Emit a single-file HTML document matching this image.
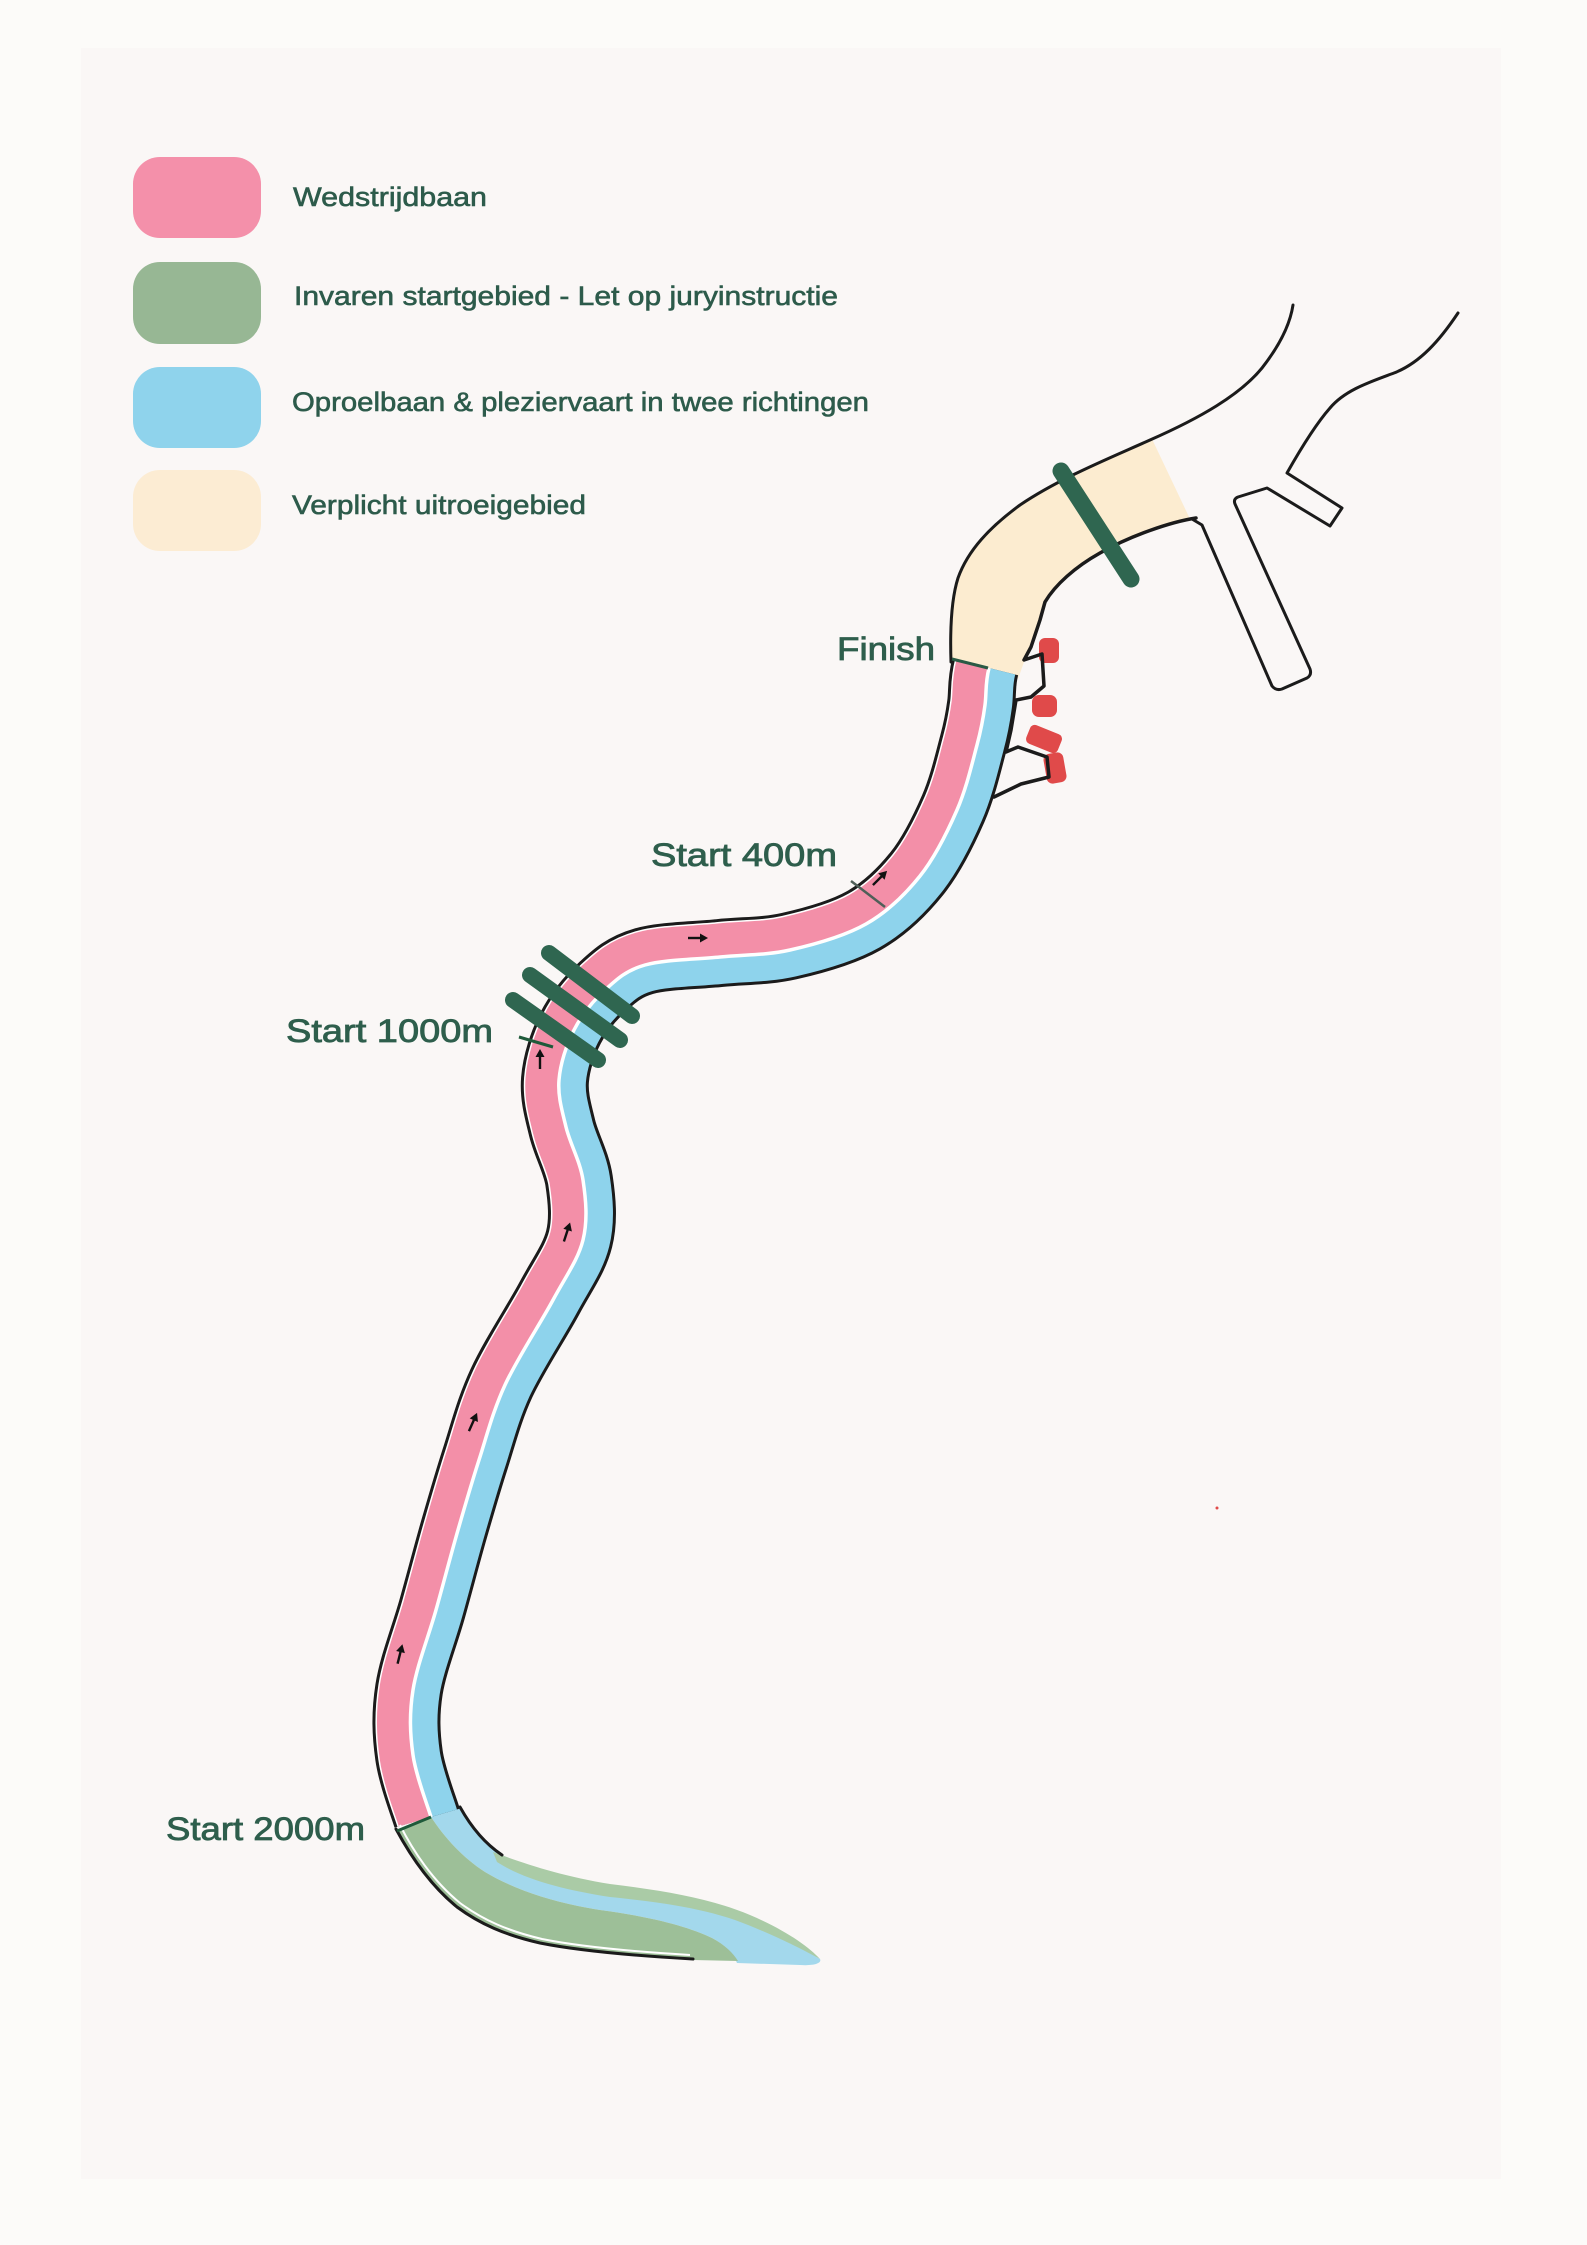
<!DOCTYPE html>
<html><head><meta charset="utf-8"><style>
html,body{margin:0;padding:0;background:#fcfbf9}
svg{display:block}
.lg{font-family:"Liberation Sans",sans-serif;font-size:27px;fill:#2d5b4b;stroke:#2d5b4b;stroke-width:0.6}
.lb{font-family:"Liberation Sans",sans-serif;font-size:32px;fill:#2e5e4c;stroke:#2e5e4c;stroke-width:0.8}
</style></head><body>
<svg width="1587" height="2245" viewBox="0 0 1587 2245" xmlns="http://www.w3.org/2000/svg">
<defs>
<path id="C" d="M431,1817 C428,1806.7 416,1776.2 413,1755 C410,1733.8 409.2,1714.2 413,1690 C416.8,1665.8 428.5,1636.7 436,1610 C443.5,1583.3 450.8,1555 458,1530 C465.2,1505 471.2,1484.2 479,1460 C486.8,1435.8 492.7,1411.7 505,1385 C517.3,1358.3 540,1324.2 553,1300 C566,1275.8 578,1260 583,1240 C588,1220 585.8,1198.8 583,1180 C580.2,1161.2 570,1143.7 566,1127 C562,1110.3 557.7,1096.2 559,1080 C560.3,1063.8 566.3,1045 574,1030 C581.7,1015 593.2,1000.8 605,990 C616.8,979.2 625.8,970.5 645,965 C664.2,959.5 695.8,959.5 720,957 C744.2,954.5 765.7,955.5 790,950 C814.3,944.5 844.3,936.3 866,924 C887.7,911.7 904.8,895 920,876 C935.2,857 947.5,831.8 957,810 C966.5,788.2 972.3,762.5 977,745 C981.7,727.5 983.3,717.8 985,705 C986.7,692.2 985,684 989,668"/>
<clipPath id="cl"><path d="M431,1817 C428,1806.7 416,1776.2 413,1755 C410,1733.8 409.2,1714.2 413,1690 C416.8,1665.8 428.5,1636.7 436,1610 C443.5,1583.3 450.8,1555 458,1530 C465.2,1505 471.2,1484.2 479,1460 C486.8,1435.8 492.7,1411.7 505,1385 C517.3,1358.3 540,1324.2 553,1300 C566,1275.8 578,1260 583,1240 C588,1220 585.8,1198.8 583,1180 C580.2,1161.2 570,1143.7 566,1127 C562,1110.3 557.7,1096.2 559,1080 C560.3,1063.8 566.3,1045 574,1030 C581.7,1015 593.2,1000.8 605,990 C616.8,979.2 625.8,970.5 645,965 C664.2,959.5 695.8,959.5 720,957 C744.2,954.5 765.7,955.5 790,950 C814.3,944.5 844.3,936.3 866,924 C887.7,911.7 904.8,895 920,876 C935.2,857 947.5,831.8 957,810 C966.5,788.2 972.3,762.5 977,745 C981.7,727.5 983.3,717.8 985,705 C986.7,692.2 985,684 989,668 L989,0 L0,0 L0,2245 L431,2245 Z"/></clipPath>
<clipPath id="cr"><path d="M431,1817 C428,1806.7 416,1776.2 413,1755 C410,1733.8 409.2,1714.2 413,1690 C416.8,1665.8 428.5,1636.7 436,1610 C443.5,1583.3 450.8,1555 458,1530 C465.2,1505 471.2,1484.2 479,1460 C486.8,1435.8 492.7,1411.7 505,1385 C517.3,1358.3 540,1324.2 553,1300 C566,1275.8 578,1260 583,1240 C588,1220 585.8,1198.8 583,1180 C580.2,1161.2 570,1143.7 566,1127 C562,1110.3 557.7,1096.2 559,1080 C560.3,1063.8 566.3,1045 574,1030 C581.7,1015 593.2,1000.8 605,990 C616.8,979.2 625.8,970.5 645,965 C664.2,959.5 695.8,959.5 720,957 C744.2,954.5 765.7,955.5 790,950 C814.3,944.5 844.3,936.3 866,924 C887.7,911.7 904.8,895 920,876 C935.2,857 947.5,831.8 957,810 C966.5,788.2 972.3,762.5 977,745 C981.7,727.5 983.3,717.8 985,705 C986.7,692.2 985,684 989,668 L989,0 L1587,0 L1587,2245 L431,2245 Z"/></clipPath>
<g id="ar"><path d="M0,10 L0,-3" stroke="#111" stroke-width="2.4" fill="none"/><path d="M0,-10 L-4.5,-2 L4.5,-2 Z" fill="#111"/></g>
</defs>

<rect width="1587" height="2245" fill="#fcfbf9"/>
<rect x="81" y="48" width="1420" height="2131" fill="#faf7f6"/>

<rect x="133" y="157" width="128" height="81" rx="27" fill="#f490aa"/>
<rect x="133" y="262" width="128" height="82" rx="27" fill="#97b794"/>
<rect x="133" y="367" width="128" height="81" rx="27" fill="#8fd3ec"/>
<rect x="133" y="470" width="128" height="81" rx="27" fill="#fcecd3"/>
<text class="lg" x="293" y="206" textLength="194" lengthAdjust="spacingAndGlyphs">Wedstrijdbaan</text>
<text class="lg" x="294" y="305" textLength="544" lengthAdjust="spacingAndGlyphs">Invaren startgebied - Let op juryinstructie</text>
<text class="lg" x="292" y="411" textLength="577" lengthAdjust="spacingAndGlyphs">Oproelbaan &amp; pleziervaart in twee richtingen</text>
<text class="lg" x="292" y="514" textLength="294" lengthAdjust="spacingAndGlyphs">Verplicht uitroeigebied</text>

<path d="M952,662 C950,632 951,600 958,578 C968,550 990,527 1020,505 C1060,478 1110,458 1152,439 L1190,519 C1170,522 1130,536 1100,553 C1075,567 1055,585 1045,602 L1040,620 L1030,648 L1024,662 L1018,679 L990,672 Z" fill="#fcecd0"/>

<path d="M431,1817 L461,1806 C470,1825 484,1843 502,1855 C530,1870 570,1882 615,1888 C665,1894 705,1903 740,1918 C775,1933 805,1950 820,1959 C822,1963 815,1966 800,1965 L737,1963 C733,1953 725,1945 712,1938 C685,1925 645,1916 600,1910 C555,1903 515,1890 485,1872 C462,1857 445,1838 431,1817 Z" fill="#a3d8ec"/>
<path d="M493,1852 C520,1862 560,1876 610,1884 C660,1890 710,1898 750,1915 C785,1930 808,1946 820,1959 C800,1948 770,1933 735,1920 C700,1908 660,1902 610,1897 C565,1890 525,1880 497,1862 Z" fill="#aacba6"/>
<path d="M397,1830 L431,1817 C445,1838 462,1857 485,1872 C515,1890 555,1903 600,1910 C645,1916 685,1925 712,1938 C725,1945 733,1953 738,1961 L693,1960 C640,1956 580,1951 540,1943 C505,1935 480,1924 457,1907 C430,1885 410,1855 397,1830 Z" fill="#9dbf98"/>

<g clip-path="url(#cl)" fill="none">
<use href="#C" stroke="#1b1b1b" stroke-width="76"/>
<use href="#C" stroke="#ffffff" stroke-width="70"/>
<use href="#C" stroke="#f38fa8" stroke-width="67"/>
</g>
<g clip-path="url(#cr)" fill="none">
<use href="#C" stroke="#1b1b1b" stroke-width="60"/>
<use href="#C" stroke="#8ed3ec" stroke-width="54"/>
</g>
<use href="#C" stroke="#ffffff" stroke-width="3.5" fill="none"/>

<g fill="none" stroke="#1b1b1b" stroke-width="3" stroke-linejoin="round" stroke-linecap="round">
<path d="M951,662 C950,632 951,600 958,578 C968,550 990,527 1020,505 C1060,478 1110,458 1150,440 C1200,418 1240,395 1262,368 C1280,345 1290,325 1293,305"/>
<path d="M1192,519 L1202,525 L1272,686 Q1276,691 1282,689 L1307,678 Q1312,675 1310,669 L1235,504 Q1233,499 1238,497 L1267,488 L1330,526 L1342,508 L1287,473 C1300,450 1315,425 1330,408 C1345,390 1370,382 1394,373 C1420,363 1440,340 1458,313"/>
<path d="M396,1829 C410,1855 430,1885 457,1907 C480,1924 505,1935 540,1943 C580,1951 640,1956 693,1959"/>
<path d="M460,1807 C470,1825 484,1843 502,1855"/>
</g>
<path d="M400,1825 C413,1851 433,1881 460,1903 C483,1920 508,1931 542,1939 C582,1947 640,1952 690,1955" fill="none" stroke="#fff" stroke-width="2"/>

<g fill="#e04a4a">
<rect x="1039" y="638" width="20" height="25" rx="6"/>
<rect x="1032" y="695" width="25" height="22" rx="7"/>
<rect x="1027" y="729" width="34" height="20" rx="5" transform="rotate(22 1044 739)"/>
<rect x="1045" y="753" width="20" height="30" rx="6" transform="rotate(-10 1055 768)"/>
</g>
<path d="M1196,518 C1170,522 1130,536 1100,553 C1075,567 1055,585 1045,602 L1040,620 L1031,647 L1024,660 L1042,654 L1044,686 L1031,697 L1016,700 L1011,730 L1006,752 L1018,747 L1047,757 L1049,777 L1021,784 L994,797" fill="none" stroke="#1b1b1b" stroke-width="3.5" stroke-linejoin="round" stroke-linecap="round"/>

<line x1="952" y1="659" x2="988" y2="668" stroke="#2a5a45" stroke-width="3"/>
<line x1="851" y1="881" x2="885" y2="907" stroke="#4f5f58" stroke-width="2.5"/>
<line x1="519" y1="1037" x2="553" y2="1047" stroke="#1f5a3a" stroke-width="3"/>
<line x1="397" y1="1831" x2="431" y2="1817" stroke="#1f5a3a" stroke-width="3"/>

<g stroke="#2f6650" stroke-width="16" stroke-linecap="round">
<line x1="549" y1="953" x2="632" y2="1016"/>
<line x1="530" y1="975" x2="620" y2="1040"/>
<line x1="513" y1="1000" x2="598" y2="1060"/>
<line x1="1061" y1="471" x2="1131" y2="579" stroke-width="17"/>
</g>

<use href="#ar" transform="translate(400,1654) rotate(14)"/>
<use href="#ar" transform="translate(473,1422) rotate(24)"/>
<use href="#ar" transform="translate(567,1232) rotate(18)"/>
<use href="#ar" transform="translate(540,1059) rotate(0)"/>
<use href="#ar" transform="translate(698,938) rotate(90)"/>
<use href="#ar" transform="translate(880,878) rotate(45)"/>

<circle cx="1217" cy="1508" r="1.5" fill="#e04a4a"/>

<text class="lb" x="837" y="660" textLength="98" lengthAdjust="spacingAndGlyphs">Finish</text>
<text class="lb" x="651" y="866" textLength="186" lengthAdjust="spacingAndGlyphs">Start 400m</text>
<text class="lb" x="286" y="1042" textLength="207" lengthAdjust="spacingAndGlyphs">Start 1000m</text>
<text class="lb" x="166" y="1840" textLength="199" lengthAdjust="spacingAndGlyphs">Start 2000m</text>
</svg>
</body></html>
